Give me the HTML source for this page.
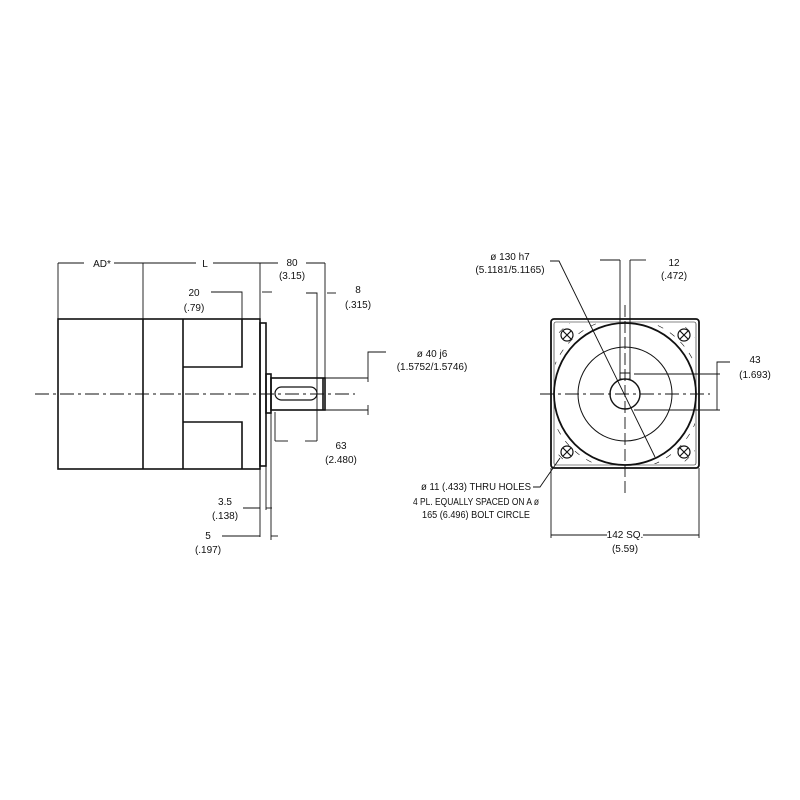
<!DOCTYPE html>
<html><head><style>html,body{margin:0;background:#fff}svg{display:block}
text{font-family:"Liberation Sans Narrow","Liberation Sans",sans-serif;font-size:10px;fill:#111;text-anchor:middle}</style></head>
<body><svg width="800" height="800" viewBox="0 0 800 800" xmlns="http://www.w3.org/2000/svg">
<defs><clipPath id="sq"><rect x="555" y="323" width="140" height="141"/></clipPath></defs>
<g stroke="#111" fill="none">
<g stroke-width="1.6">
<rect x="58" y="319" width="202" height="150"/>
<line x1="143" y1="319" x2="143" y2="469"/>
<line x1="183" y1="319" x2="183" y2="469"/>
<polyline points="183,367 242,367 242,319"/>
<polyline points="183,422 242,422 242,469"/>
<rect x="260" y="323" width="6" height="143"/>
<rect x="266" y="374" width="5" height="39"/>
<rect x="271" y="378" width="54" height="32"/>
<line x1="323" y1="378" x2="323" y2="410"/>
</g>
<rect x="275" y="387" width="42" height="13" rx="6.5" stroke-width="1.2"/>
<line x1="35" y1="394" x2="355" y2="394" stroke-width="1" stroke-dasharray="14,4,3,4"/>
<g stroke-width="0.9">
<line x1="58" y1="263" x2="58" y2="319"/>
<line x1="143" y1="263" x2="143" y2="319"/>
<line x1="260" y1="263" x2="260" y2="319"/>
<line x1="325" y1="263" x2="325" y2="378"/>
<line x1="58" y1="263" x2="84" y2="263"/><line x1="114" y1="263" x2="196" y2="263"/>
<line x1="213" y1="263" x2="260" y2="263"/><line x1="260" y1="263" x2="278" y2="263"/>
<line x1="306" y1="263" x2="325" y2="263"/>
<polyline points="211,292 242,292 242,319"/>
<line x1="262" y1="292" x2="272" y2="292"/>
<polyline points="306,293 317,293 317,441"/>
<line x1="327" y1="293" x2="336" y2="293"/>
<line x1="275" y1="412" x2="275" y2="441"/>
<line x1="275" y1="441" x2="288" y2="441"/><line x1="305" y1="441" x2="317" y2="441"/>
<line x1="325" y1="378" x2="368" y2="378"/><polyline points="368,382 368,352 386,352"/>
<line x1="325" y1="410" x2="368" y2="410"/><line x1="368" y1="405" x2="368" y2="415"/>
<line x1="260" y1="469" x2="260" y2="537"/>
<line x1="266" y1="466" x2="266" y2="510"/>
<line x1="271" y1="413" x2="271" y2="540"/>
<line x1="243" y1="508" x2="260" y2="508"/><line x1="266" y1="508" x2="272" y2="508"/>
<line x1="222" y1="536" x2="260" y2="536"/><line x1="271" y1="536" x2="278" y2="536"/>
</g>
<rect x="551" y="319" width="148" height="149" rx="3" stroke-width="1.8"/>
<rect x="554" y="322" width="142" height="143" rx="2" stroke-width="0.6"/>
<circle cx="625" cy="394" r="71" stroke-width="1.8"/>
<circle cx="625" cy="394" r="47" stroke-width="1"/>
<circle cx="625" cy="394" r="15" stroke-width="1.4"/>
<rect x="620" y="373" width="10" height="6" stroke-width="1"/>
<g stroke-width="1.2">
<circle cx="567" cy="335" r="6"/><path d="M563 331l8 8M571 331l-8 8"/>
<circle cx="684" cy="335" r="6"/><path d="M680 331l8 8M688 331l-8 8"/>
<circle cx="567" cy="452" r="6"/><path d="M563 448l8 8M571 448l-8 8"/>
<circle cx="684" cy="452" r="6"/><path d="M680 448l8 8M688 448l-8 8"/>
</g>
<g clip-path="url(#sq)" stroke-width="0.6" stroke-dasharray="6,8">
<circle cx="625" cy="394" r="76"/>
<circle cx="625" cy="394" r="90"/>
</g>
<g stroke-width="0.9">
<line x1="620" y1="260" x2="620" y2="373"/><line x1="630" y1="260" x2="630" y2="373"/>
<line x1="600" y1="260" x2="620" y2="260"/><line x1="630" y1="260" x2="646" y2="260"/>
<polyline points="550,261 559,261 655,457"/>
<line x1="540" y1="394" x2="710" y2="394" stroke-dasharray="14,4,3,4"/>
<line x1="625" y1="305" x2="625" y2="493" stroke-dasharray="12,4"/>
<line x1="634" y1="374" x2="720" y2="374"/><line x1="634" y1="410" x2="720" y2="410"/>
<polyline points="717,410 717,362 730,362"/>
<line x1="551" y1="468" x2="551" y2="538"/><line x1="699" y1="468" x2="699" y2="538"/>
<line x1="551" y1="535" x2="607" y2="535"/><line x1="643" y1="535" x2="699" y2="535"/>
<polyline points="533,487 540,487 560,458"/>
</g>
</g>
<text x="102" y="267">AD*</text><text x="205" y="267">L</text>
<text x="292" y="266">80</text><text x="292" y="279">(3.15)</text>
<text x="194" y="296">20</text><text x="194" y="311">(.79)</text>
<text x="358" y="293">8</text><text x="358" y="308">(.315)</text>
<text x="432" y="357">ø 40 j6</text><text x="432" y="370">(1.5752/1.5746)</text>
<text x="341" y="449">63</text><text x="341" y="463">(2.480)</text>
<text x="225" y="505">3.5</text><text x="225" y="519">(.138)</text>
<text x="208" y="539">5</text><text x="208" y="553">(.197)</text>
<text x="510" y="260">ø 130 h7</text><text x="510" y="273">(5.1181/5.1165)</text>
<text x="674" y="266">12</text><text x="674" y="279">(.472)</text>
<text x="755" y="363">43</text><text x="755" y="378">(1.693)</text>
<text x="476" y="490" textLength="110" lengthAdjust="spacingAndGlyphs">ø 11 (.433) THRU HOLES</text>
<text x="476" y="505" textLength="126" lengthAdjust="spacingAndGlyphs">4 PL. EQUALLY SPACED ON A ø</text>
<text x="476" y="518" textLength="108" lengthAdjust="spacingAndGlyphs">165 (6.496) BOLT CIRCLE</text>
<text x="625" y="538">142 SQ.</text><text x="625" y="552">(5.59)</text>
</svg></body></html>
